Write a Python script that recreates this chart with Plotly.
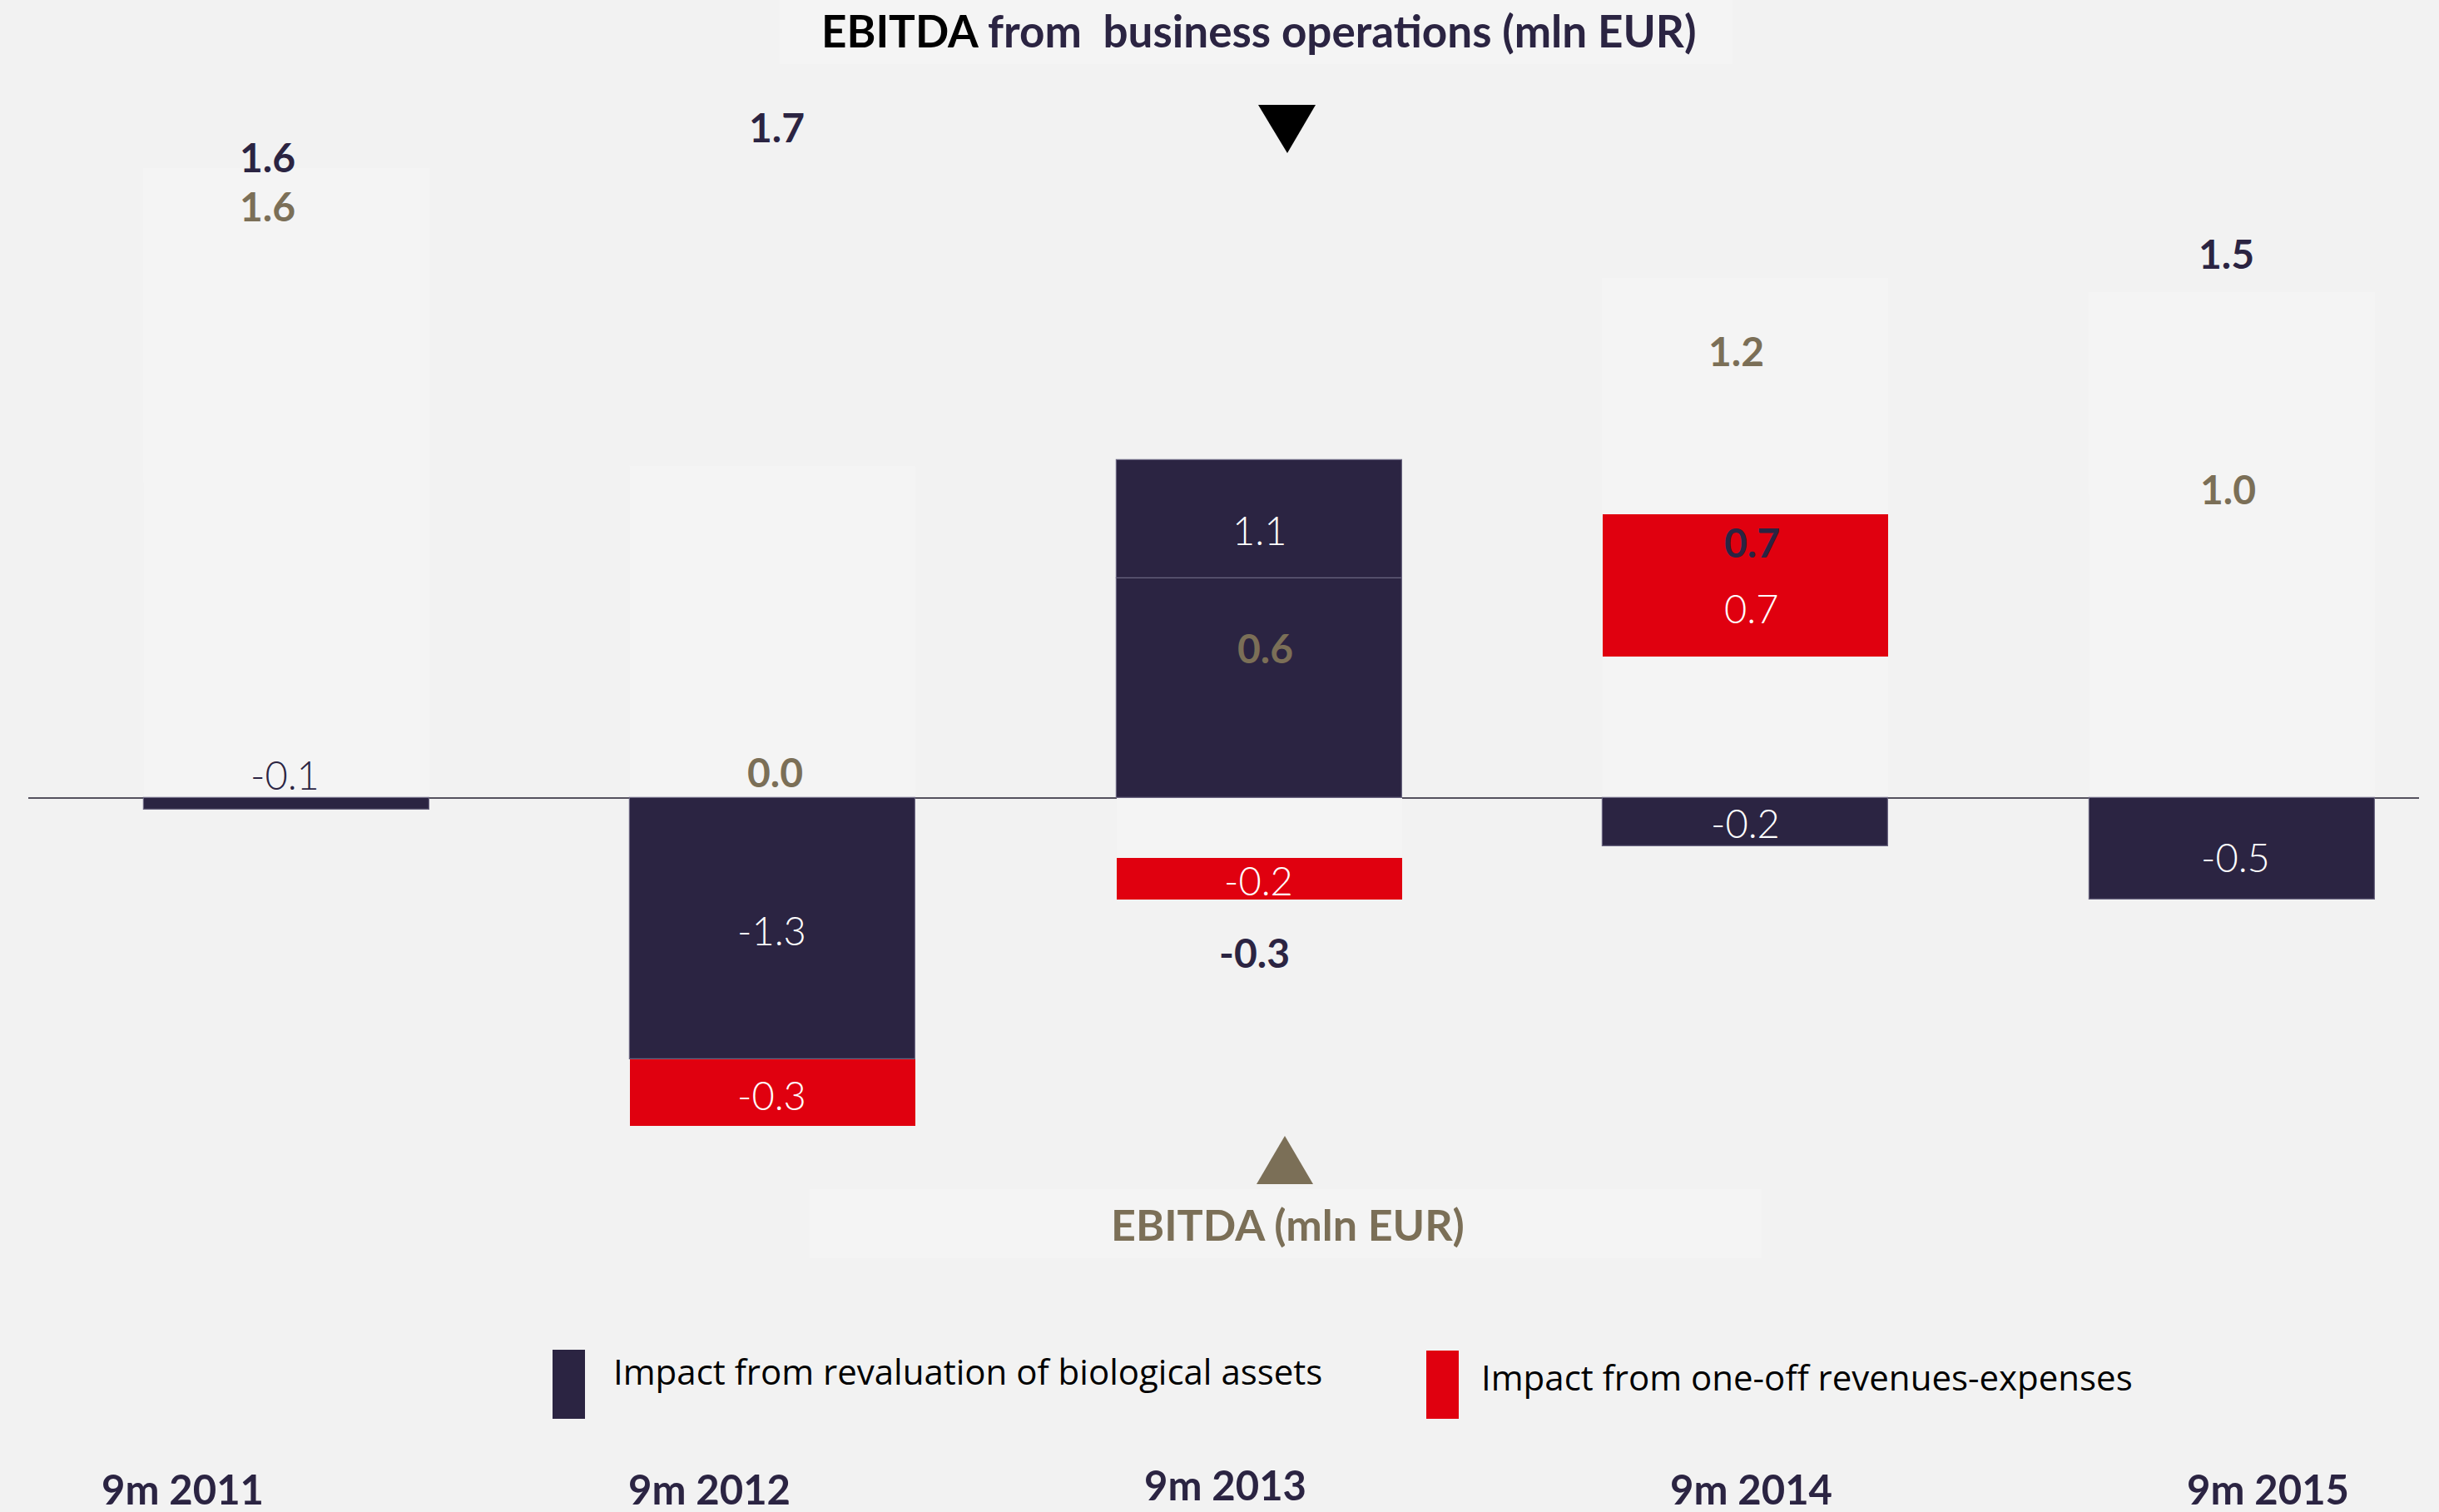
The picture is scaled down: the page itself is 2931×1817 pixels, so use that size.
import plotly.graph_objects as go

# ---------------- data (mln EUR) ----------------
categories = ["9m 2011", "9m 2012", "9m 2013", "9m 2014", "9m 2015"]
ebitda_business_ops = [1.58, 1.66, -0.30, 0.71, 1.52]
biological_impact = [-0.06, -1.31, 1.10, -0.24, -0.51]
one_off_impact = [0.0, -0.33, -0.21, 0.71, 0.0]
ebitda = [1.57, 0.0, 0.59, 1.18, 1.01]

legend_names = ["Impact from revaluation of biological assets",
                "Impact from one-off revenues-expenses"]
title_top = "EBITDA from\u00a0 business operations (mln EUR)"
title_bottom = "EBITDA (mln EUR)"

# ---------------- style ----------------
W, H = 2931, 1817
BG = "#F2F2F2"
NAVY = "#2B2442"
RED = "#E0000F"
TAN = "#7B6F57"
GHOST = "#F4F4F4"
EDGE = "#6a6580"
BOLD = "Lato"
LIGHT = "Lato"

# pixel geometry of the axes (zero line at y=959 px, 240 px per mln EUR)
ZERO_PX, PX_PER_UNIT = 959, 240
X0_PX, X_STEP = 344, 584.5
y_range = [-(H - ZERO_PX) / PX_PER_UNIT, ZERO_PX / PX_PER_UNIT]
x_range = [-X0_PX / X_STEP, (W - X0_PX) / X_STEP]
bar_w = 343 / X_STEP

x_idx = list(range(len(categories)))
ebitda_colors = [GHOST, GHOST, NAVY, GHOST, GHOST]
ebitda_edges = [GHOST, GHOST, EDGE, GHOST, GHOST]

fig = go.Figure()
fig.add_bar(x=x_idx, y=ebitda_business_ops, width=bar_w, name="EBITDA from business operations",
            marker=dict(color=GHOST, line=dict(width=0)), hoverinfo="skip")
fig.add_bar(x=x_idx, y=biological_impact, width=bar_w, name=legend_names[0],
            marker=dict(color=NAVY, line=dict(width=1.2, color=EDGE)))
fig.add_bar(x=x_idx, y=one_off_impact, width=bar_w, name=legend_names[1],
            marker=dict(color=RED, line=dict(width=0)))
fig.add_bar(x=x_idx, y=ebitda, width=bar_w, name="EBITDA",
            marker=dict(color=ebitda_colors, line=dict(width=1.2, color=ebitda_edges)))


def px(x, y):
    return x / W, 1 - y / H


def ann(text, x, y, color, size, weight=700, family=BOLD, xanchor="center"):
    xp, yp = px(x, y)
    fig.add_annotation(x=xp, y=yp, xref="paper", yref="paper", text=text, showarrow=False,
                       xanchor=xanchor, yanchor="middle",
                       font=dict(family=family, size=size, color=color, weight=weight))


def rect(x0, y0, x1, y1, color, layer="above"):
    a, b = px(x0, y0)
    c, d = px(x1, y1)
    fig.add_shape(type="rect", xref="paper", yref="paper", x0=a, y0=b, x1=c, y1=d,
                  fillcolor=color, line=dict(width=0), layer=layer)


def tri(points, color):
    pts = [px(x, y) for x, y in points]
    path = "M " + " L ".join(f"{a} {b}" for a, b in pts) + " Z"
    fig.add_shape(type="path", xref="paper", yref="paper", path=path,
                  fillcolor=color, line=dict(width=0))


fmt = lambda v: f"{v:.1f}"

# faint text boxes
rect(937, 0, 2082, 77, GHOST, layer="below")
rect(973, 1429, 2117, 1512, GHOST, layer="below")

# zero line
fig.add_shape(type="line", xref="paper", yref="y", x0=34 / W, x1=2907 / W, y0=0, y1=0,
              line=dict(color="#55525f", width=2), layer="below")

# value labels
bus_pos = [(321, 188), (933, 153), (1507, 1144), (2105, 651), (2675, 305)]
for v, (x, y) in zip(ebitda_business_ops, bus_pos):
    ann(fmt(v), x, y, NAVY, 48)

ebitda_pos = [(321, 247), (931, 927), (1520, 778), (2086, 421), (2677, 587)]
for v, (x, y) in zip(ebitda, ebitda_pos):
    ann(fmt(v), x, y, TAN, 48)

bio_pos = [(342, 931), (927, 1118), (1514, 637), (2097, 989), (2686, 1030)]
bio_col = [NAVY, "white", "white", "white", "white"]
for v, (x, y), c in zip(biological_impact, bio_pos, bio_col):
    ann(fmt(v), x, y, c, 47, weight=300, family=LIGHT)

one_pos = [None, (927, 1316), (1512, 1058), (2105, 731), None]
for v, p in zip(one_off_impact, one_pos):
    if p is not None and v != 0:
        ann(fmt(v), p[0], p[1], "white", 47, weight=300, family=LIGHT)

# titles and arrows
first, rest = title_top.split(" ", 1)
ann(f"<span style='color:#000000'>{first}</span> {rest}", 1512, 36, NAVY, 53)
tri([(1512, 126), (1581, 126), (1547, 184)], "#000000")
tri([(1510, 1423), (1578, 1423), (1544, 1365)], TAN)
ann(title_bottom, 1547, 1471, TAN, 52)

# legend
rect(664, 1622, 703, 1705, NAVY)
ann(legend_names[0], 735, 1647, "#000000", 42, weight=400, family="Open Sans", xanchor="left")
rect(1714, 1623, 1753, 1705, RED)
ann(legend_names[1], 1778, 1654, "#000000", 42, weight=400, family="Open Sans", xanchor="left")

# category labels
cat_pos = [(219, 1789), (853, 1789), (1473, 1784), (2104, 1789), (2725, 1789)]
for c, (x, y) in zip(categories, cat_pos):
    ann(c, x, y, NAVY, 49)

fig.update_layout(
    width=W, height=H, barmode="relative", bargap=0, showlegend=False,
    paper_bgcolor=BG, plot_bgcolor=BG, margin=dict(l=0, r=0, t=0, b=0),
    xaxis=dict(range=x_range, visible=False, fixedrange=True),
    yaxis=dict(range=y_range, visible=False, fixedrange=True),
)

fig.write_html("out.html", config={"displayModeBar": False},
               post_script="document.body.style.margin='0';document.body.style.overflow='hidden';")
